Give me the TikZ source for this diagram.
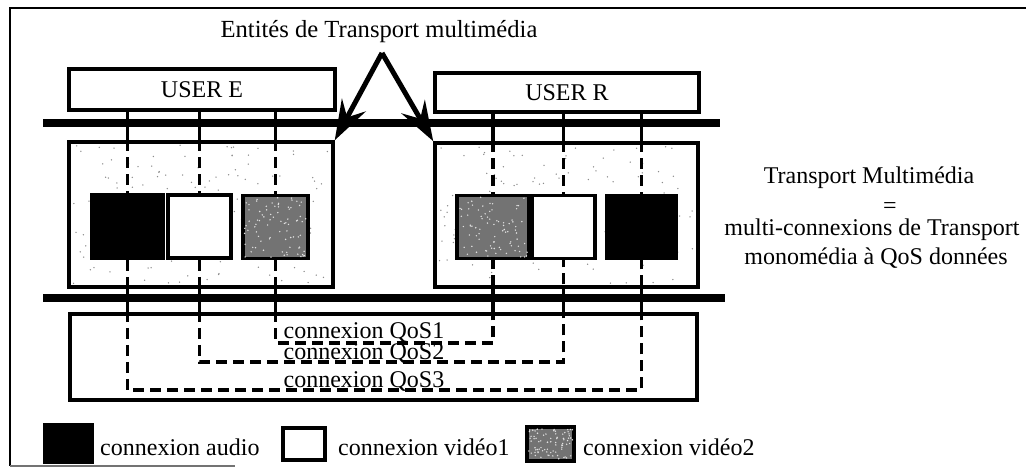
\documentclass[tikz,border=0pt]{standalone}
\usepackage{fontspec}
\setmainfont{Liberation Serif}
\usetikzlibrary{arrows.meta,calc}

\begin{document}
\begin{tikzpicture}[x=1pt,y=-1pt,
  txt/.style={font=\fontsize{24}{28}\selectfont, inner sep=0pt},
  ubox/.style={draw, line width=3.5pt, fill=white, inner sep=0pt,
    font=\fontsize{24}{28}\selectfont},
  ebox/.style={draw, line width=3.5pt, fill=white, inner sep=0pt},
  sq/.style={draw, line width=3.5pt, inner sep=0pt, minimum height=63pt},
  audio/.style={fill=black},
  vidone/.style={fill=white},
  vidtwo/.style={fill=black!55},
  bus/.style={line width=8pt},
  conn/.style={line width=3.5pt},
  dsh/.style={line width=3.5pt, dash pattern=on 11pt off 6pt},
  pointer/.style={line width=5pt,
    -{Stealth[length=40pt,width=27pt,inset=14pt]}}]
\useasboundingbox (0,0) rectangle (1026,468);

% outer frame (open on the right)
\draw[line width=2.5pt] (1026,8) -- (10,8) -- (10,466);
\draw[line width=1.2pt, black!55] (10,466) -- (235,466);

% title and the two pointers to the transport entities
\node[txt, font=\fontsize{24.6}{28}\selectfont, anchor=base] (title) at (379,38)
  {Entités de Transport multimédia};
\coordinate (apex) at (382,53);

% transport entities with their speckled fill
\node[ebox, minimum width=264pt, minimum height=145pt] (entE) at (201,214.5) {};
\node[ebox, minimum width=263pt, minimum height=144pt] (entR) at (566.5,215) {};
\pgfmathsetseed{11}
\foreach \i in {1,...,140} {
  \fill[black!45] ({72+258*rnd},{145+139*rnd}) circle (0.75pt);
  \fill[black!45] ({438+257*rnd},{146+138*rnd}) circle (0.75pt);
}

% network channel box
\node[ubox, minimum width=627pt, minimum height=86pt] (chan) at (383.5,357) {};

% media squares
\node[sq, audio,  minimum width=71pt] (eA)  at (127.5,226.5) {};
\node[sq, vidone, minimum width=63pt] (eV1) at (199.5,226.5) {};
\node[sq, vidtwo, minimum width=65pt] (eV2) at (275.5,227) {};
\node[sq, vidtwo, minimum width=72pt] (rV2) at (493,227) {};
\node[sq, vidone, minimum width=63pt] (rV1) at (563.5,227) {};
\node[sq, audio,  minimum width=69pt] (rA)  at (641.5,227) {};

% legend squares
\node[sq, audio,  minimum width=47pt, minimum height=37pt] (legA)  at (68.5,443.5) {};
\node[sq, vidone, minimum width=42pt, minimum height=32pt] (legV1) at (304,444) {};
\node[sq, vidtwo, minimum width=47pt, minimum height=34pt] (legV2) at (550.5,444) {};

% grainy texture of the video2 squares
\foreach \sqname in {eV2,rV2,legV2} {
  \foreach \i in {1,...,80} {
    \fill[black!12] let \p1=(\sqname.north west), \p2=(\sqname.south east) in
      ({\x1+3pt+(\x2-\x1-6pt)*rnd},{\y1-3pt+(\y2-\y1+6pt)*rnd}) circle (0.8pt);
  }
}

% service access buses
\coordinate (busTl) at (43,123);
\coordinate (busTr) at (720,123);
\coordinate (busBl) at (43,298);
\coordinate (busBr) at (725,298);
\draw[bus] (busTl) -- (busTr);
\draw[bus] (busBl) -- (busBr);

% users
\node[ubox, minimum width=266pt, minimum height=41pt] (userE) at (202,89.5) {USER E};
\node[ubox, minimum width=264pt, minimum height=39pt] (userR) at (567,92.5) {USER R};

% user side: solid down to the entity, dashed inside it
\foreach \s in {eA,eV1,eV2} {
  \draw[conn] (userE.south -| \s) -- (entE.north -| \s);
  \draw[dsh] (entE.north -| \s) -- (\s.north);
}
\foreach \s in {rV2,rV1,rA} {
  \draw[conn] (userR.south -| \s) -- (entR.north -| \s);
  \draw[dsh] (entR.north -| \s) -- (\s.north);
}

% monomedia transport connections
\coordinate (q1) at (0,343);
\coordinate (q2) at (0,362);
\coordinate (q3) at (0,390);
\draw[dsh] (eV2.south) -- (eV2.south |- q1) -- (rV2.south |- q1) -- (rV2.south);
\draw[dsh] (eV1.south) -- (eV1.south |- q2) -- (rV1.south |- q2) -- (rV1.south);
\draw[dsh] (eA.south)  -- (eA.south |- q3)  -- (rA.south |- q3)  -- (rA.south);
\foreach \s in {eA,eV1,eV2} {
  \draw[conn] (entE.south -| \s) -- (chan.north -| \s);
}
\foreach \s in {rV2,rV1,rA} {
  \draw[conn] (entR.south -| \s) -- (chan.north -| \s);
}
\node[txt, anchor=base] (lq1) at (364,338) {connexion QoS1};
\node[txt, anchor=base] (lq2) at (364,359) {connexion QoS2};
\node[txt, anchor=base] (lq3) at (364,387) {connexion QoS3};

% pointers
\draw[pointer] (apex) -- (entE.north east);
\draw[pointer] (apex) -- (entR.north west);

% definition on the right
\node[txt, anchor=base] (def1) at (869,184) {Transport Multimédia};
\node[txt] (def2) at (890,208) {=};
\node[txt, anchor=base] (def3) at (872,236) {multi-connexions de Transport};
\node[txt, anchor=base] (def4) at (876,264) {monomédia à QoS données};

% legend texts
\node[txt, anchor=base west] (legAt)  at (100,455) {connexion audio};
\node[txt, anchor=base west] (legV1t) at (338,455) {connexion vidéo1};
\node[txt, anchor=base west] (legV2t) at (583,455) {connexion vidéo2};
\end{tikzpicture}
\end{document}
